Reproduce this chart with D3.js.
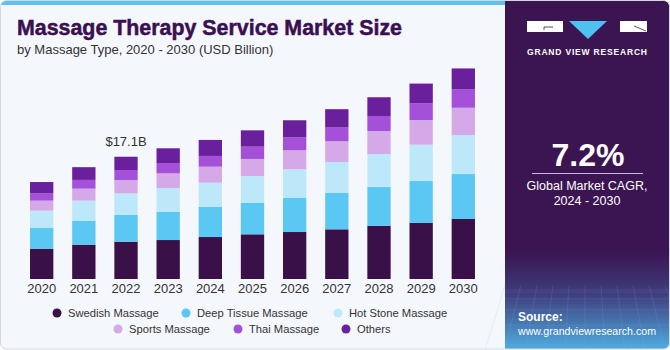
<!DOCTYPE html>
<html>
  <head>
    <script src="https://cdn.jsdelivr.net/npm/d3@7"></script>
    <style>
      body { margin: 0; background: #ffffff; }
      svg text { font-family: "Liberation Sans", Arial, sans-serif; }
    </style>
  </head>
  <body>
    <script>
      // chart values (USD Billion)
      var years = ["2020", "2021", "2022", "2023", "2024", "2025", "2026", "2027", "2028", "2029", "2030"];
      var segments = ["Swedish Massage", "Deep Tissue Massage", "Hot Stone Massage", "Sports Massage", "Thai Massage", "Others"];
      var swedish = [4.24, 4.80, 5.22, 5.45, 5.87, 6.25, 6.57, 6.95, 7.45, 7.83, 8.39];
      var deepTissue = [2.94, 3.36, 3.73, 3.96, 4.20, 4.38, 4.76, 5.08, 5.41, 5.87, 6.29];
      var hotStone = [2.38, 2.80, 3.03, 3.31, 3.40, 3.78, 4.01, 4.34, 4.62, 5.08, 5.45];
      var sports = [1.40, 1.68, 1.86, 2.06, 2.24, 2.38, 2.66, 2.90, 3.22, 3.45, 3.82];
      var thai = [1.02, 1.22, 1.40, 1.44, 1.50, 1.72, 1.82, 1.92, 2.10, 2.34, 2.56];
      var others = [1.58, 1.78, 1.86, 2.06, 2.24, 2.28, 2.38, 2.56, 2.62, 2.76, 2.94];
      var colors = ["#3a1049", "#5ac8f2", "#bde8f9", "#d5a8e8", "#a450d8", "#6a1f9c"];
      var seriesValues = [swedish, deepTissue, hotStone, sports, thai, others];
      var highlightYear = "2022";

      var w = 670, h = 350;

      // rows for the stack
      var table = years.map(function (y, i) {
        var row = { year: y };
        segments.forEach(function (s, k) { row[s] = seriesValues[k][i]; });
        return row;
      });

      var svg = d3.select("body").append("svg")
        .attr("width", w)
        .attr("height", h);

      var defs = svg.append("defs");
      var grad = defs.append("linearGradient")
        .attr("id", "panelGrad")
        .attr("x1", 0).attr("y1", 0).attr("x2", 0).attr("y2", 1);
      grad.append("stop").attr("offset", "0%").attr("stop-color", "#3a1552");
      grad.append("stop").attr("offset", "72%").attr("stop-color", "#3a1552");
      grad.append("stop").attr("offset", "84%").attr("stop-color", "#3f3d7c");
      grad.append("stop").attr("offset", "100%").attr("stop-color", "#4eaee2");

      var clip = defs.append("clipPath").attr("id", "cardClip");
      clip.append("rect")
        .attr("x", 0.5).attr("y", 0.5)
        .attr("width", w - 1).attr("height", h - 1.5)
        .attr("rx", 6);

      // card
      var card = svg.append("g").attr("clip-path", "url(#cardClip)");
      card.append("rect")
        .attr("width", w).attr("height", h)
        .attr("fill", "#f4f7fb");
      card.append("rect")
        .attr("x", 0).attr("y", 0)
        .attr("width", 506).attr("height", 5)
        .attr("fill", "#5ec2ea");
      card.append("rect")
        .attr("x", 505).attr("y", 0)
        .attr("width", w - 505).attr("height", h)
        .attr("fill", "url(#panelGrad)");

      // faint grid in the panel bottom
      var gridG = card.append("g")
        .attr("stroke", "#8fb8e8")
        .attr("stroke-opacity", 0.25)
        .attr("stroke-width", 0.6);
      d3.range(0, 12).forEach(function (k) {
        gridG.append("line")
          .attr("x1", 505 + k * 16).attr("y1", 285)
          .attr("x2", 485 + k * 20).attr("y2", 350);
      });
      d3.range(0, 6).forEach(function (k) {
        gridG.append("line")
          .attr("x1", 505).attr("y1", 290 + k * k * 2.2)
          .attr("x2", 670).attr("y2", 290 + k * k * 2.2);
      });

      svg.append("rect")
        .attr("x", 0.5).attr("y", 0.5)
        .attr("width", w - 1).attr("height", h - 1.5)
        .attr("rx", 6)
        .attr("fill", "none")
        .attr("stroke", "#d4d8de");

      // title
      svg.append("text")
        .attr("x", 17).attr("y", 35)
        .attr("font-size", "22px")
        .attr("font-weight", "bold")
        .attr("fill", "#3a1050")
        .attr("stroke", "#3a1050")
        .attr("stroke-width", 0.5)
        .attr("textLength", 385)
        .attr("lengthAdjust", "spacingAndGlyphs")
        .text("Massage Therapy Service Market Size");
      svg.append("text")
        .attr("x", 17).attr("y", 54)
        .attr("font-size", "13px")
        .attr("fill", "#333")
        .text("by Massage Type, 2020 - 2030 (USD Billion)");

      // scales
      var xScale = d3.scaleBand()
        .domain(years)
        .range([20.6, 484.4])
        .paddingInner(0.447)
        .paddingOuter(0.2235);
      var yScale = d3.scaleLinear()
        .domain([0, 30])
        .range([279, 64.5]);
      var color = d3.scaleOrdinal().domain(segments).range(colors);

      var stack = d3.stack().keys(segments);
      var layers = stack(table);

      svg.append("g").selectAll("g")
        .data(layers)
        .enter()
        .append("g")
        .attr("fill", function (d) { return color(d.key); })
        .selectAll("rect")
        .data(function (d) { return d; })
        .enter()
        .append("rect")
        .attr("x", function (d) { return xScale(d.data.year); })
        .attr("y", function (d) { return yScale(d[1]); })
        .attr("width", xScale.bandwidth())
        .attr("height", function (d) { return yScale(d[0]) - yScale(d[1]); });

      // x axis
      var xAxis = svg.append("g")
        .attr("transform", "translate(0,279)")
        .call(d3.axisBottom(xScale).tickSize(0).tickPadding(5));
      xAxis.select(".domain").remove();
      xAxis.selectAll("text")
        .attr("font-size", "13px")
        .attr("font-family", "Liberation Sans, Arial, sans-serif")
        .attr("fill", "#333");

      // value label
      var hi = years.indexOf(highlightYear);
      var hiTotal = d3.sum(seriesValues, function (s) { return s[hi]; });
      svg.append("text")
        .attr("x", xScale(highlightYear) + xScale.bandwidth() / 2)
        .attr("y", yScale(hiTotal) - 11)
        .attr("text-anchor", "middle")
        .attr("font-size", "13px")
        .attr("fill", "#333")
        .text("$" + hiTotal.toFixed(1) + "B");

      // legend
      var legendRows = [
        { y: 313, items: [[0, 57], [1, 186], [2, 338]] },
        { y: 329, items: [[3, 118], [4, 238], [5, 346]] }
      ];
      legendRows.forEach(function (row) {
        var g = svg.append("g");
        row.items.forEach(function (it) {
          g.append("circle")
            .attr("cx", it[1]).attr("cy", row.y)
            .attr("r", 4.5)
            .attr("fill", colors[it[0]]);
          g.append("text")
            .attr("x", it[1] + 11).attr("y", row.y + 4)
            .attr("font-size", "11.2px")
            .attr("fill", "#333")
            .text(segments[it[0]]);
        });
      });

      // right panel: logo
      var logo = svg.append("g");
      logo.append("rect").attr("x", 527).attr("y", 21).attr("width", 36).attr("height", 11).attr("fill", "#ffffff");
      logo.append("rect").attr("x", 620).attr("y", 21).attr("width", 27).attr("height", 11).attr("fill", "#ffffff");
      logo.append("path").attr("d", "M569,21 L607,21 L588,39 Z").attr("fill", "#4fc1ef");
      logo.append("path").attr("d", "M544,27 L553,27 M544,27 L544,30").attr("stroke", "#3a1552").attr("stroke-width", 0.8);
      logo.append("path").attr("d", "M634,26 L646,31").attr("stroke", "#3a1552").attr("stroke-width", 0.8);
      svg.append("text")
        .attr("x", 587).attr("y", 55)
        .attr("text-anchor", "middle")
        .attr("font-size", "8.5px")
        .attr("font-weight", "bold")
        .attr("fill", "#ffffff")
        .attr("textLength", 120)
        .text("GRAND VIEW RESEARCH");

      // CAGR
      svg.append("text")
        .attr("x", 588).attr("y", 166)
        .attr("text-anchor", "middle")
        .attr("font-size", "32px")
        .attr("font-weight", "bold")
        .attr("fill", "#ffffff")
        .text("7.2%");
      svg.append("line")
        .attr("x1", 532).attr("x2", 643)
        .attr("y1", 173.5).attr("y2", 173.5)
        .attr("stroke", "#cdb6e6")
        .attr("stroke-width", 1);
      svg.append("text")
        .attr("x", 587).attr("y", 190)
        .attr("text-anchor", "middle")
        .attr("font-size", "12.5px")
        .attr("fill", "#ffffff")
        .text("Global Market CAGR,");
      svg.append("text")
        .attr("x", 587).attr("y", 205)
        .attr("text-anchor", "middle")
        .attr("font-size", "12.5px")
        .attr("fill", "#ffffff")
        .text("2024 - 2030");

      // source
      svg.append("text")
        .attr("x", 518).attr("y", 321)
        .attr("font-size", "12px")
        .attr("font-weight", "bold")
        .attr("fill", "#ffffff")
        .text("Source:");
      svg.append("text")
        .attr("x", 518).attr("y", 335)
        .attr("font-size", "11.5px")
        .attr("fill", "#ffffff")
        .attr("textLength", 138)
        .attr("lengthAdjust", "spacingAndGlyphs")
        .text("www.grandviewresearch.com");
    </script>
  </body>
</html>
